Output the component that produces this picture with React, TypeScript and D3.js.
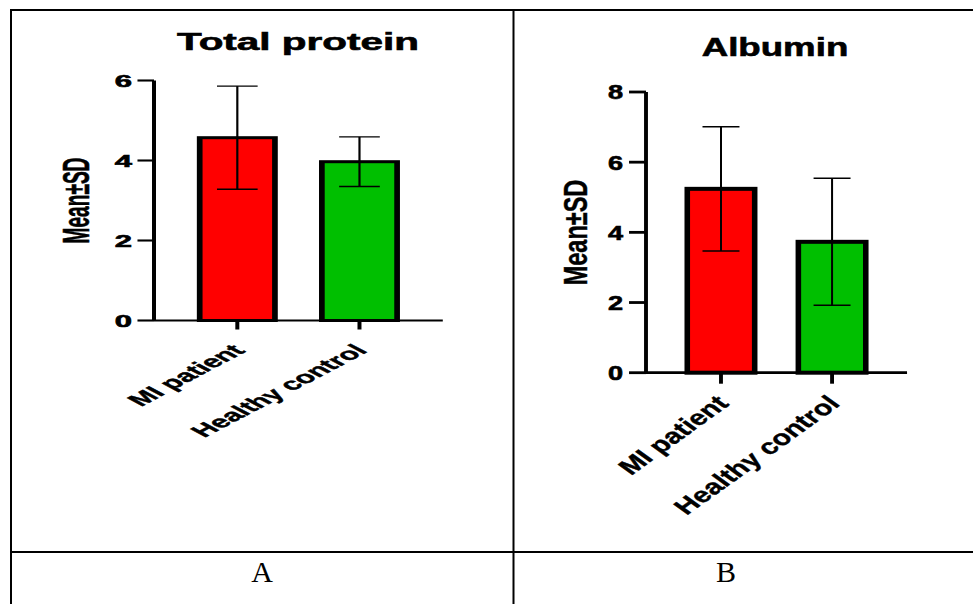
import React from 'react';
import * as d3 from 'd3';

// ---------- data ----------
const categories = ['MI patient', 'Healthy control'];
const barColors = ['#ff0000', '#00bf00'];
const totalProteinMean = [4.57, 3.97];
const totalProteinSD = [1.29, 0.62];
const albuminMean = [5.24, 3.73];
const albuminSD = [1.77, 1.81];
const totalProteinTicks = [0, 2, 4, 6];
const albuminTicks = [0, 2, 4, 6, 8];
const panelTitles = ['Total protein', 'Albumin'];
const panelLetters = ['A', 'B'];
const yAxisTitle = 'Mean±SD';

// ---------- layout ----------
type Panel = {
  title: string;
  means: number[];
  sds: number[];
  ticks: number[];
  yMax: number;
  axisX: number;
  y0: number;
  yTop: number;
  sx: number;
  xEnd: number;
  pad: number;
  barW: number;
  barStroke: number;
  errW: number;
  capHalf: number;
  capW: number;
  axisW: number;
  tickLen: number;
  labelGap: number;
  tickFont: number;
  xTickLen: number;
  xLabelFont: number;
  xLabelDx: number;
  xLabelDy: number;
  yLabelX: number;
  yLabelY: number;
  yLabelFont: number;
  titleX: number;
  titleY: number;
  titleFont: number;
  titleSx: number;
};

const panels: Panel[] = [
  {
    title: panelTitles[0], means: totalProteinMean, sds: totalProteinSD, ticks: totalProteinTicks,
    yMax: 6, axisX: 154, y0: 320.5, yTop: 80.5, sx: 1.9, xEnd: 152, pad: 0.682,
    barW: 39.6, barStroke: 3, errW: 1.15, capHalf: 10.7, capW: 1.4, axisW: 2.1, tickLen: 8.7,
    labelGap: 11.6, tickFont: 16.3, xTickLen: 9, xLabelFont: 16.8, xLabelDx: 9, xLabelDy: 31,
    yLabelX: -40.8, yLabelY: 200.5, yLabelFont: 19.1,
    titleX: 298, titleY: 50, titleFont: 24.7, titleSx: 1.64,
  },
  {
    title: panelTitles[1], means: albuminMean, sds: albuminSD, ticks: albuminTicks,
    yMax: 8, axisX: 646, y0: 372.7, yTop: 92, sx: 1.39, xEnd: 187.8, pad: 0.675,
    barW: 48.5, barStroke: 4, errW: 1.45, capHalf: 13.3, capW: 1.5, axisW: 2.8, tickLen: 12.2,
    labelGap: 16.5, tickFont: 19.5, xTickLen: 11, xLabelFont: 21.6, xLabelDx: 9, xLabelDy: 32,
    yLabelX: -50.9, yLabelY: 232.5, yLabelFont: 23.5,
    titleX: 775, titleY: 56, titleFont: 26, titleSx: 1.41,
  },
];

const FONT = "'Liberation Sans', Arial, Helvetica, sans-serif";

function BarPanel({ p }: { p: Panel }) {
  const y = d3.scaleLinear().domain([0, p.yMax]).range([p.y0, p.yTop]);
  const x = d3.scalePoint<string>().domain(categories).range([0, p.xEnd]).padding(p.pad);
  return (
    <g>
      <text
        transform={`translate(${p.titleX},${p.titleY}) scale(${p.titleSx},1)`}
        textAnchor="middle"
        fontFamily={FONT}
        fontWeight="bold"
        fontSize={p.titleFont}
        fill="#000"
        stroke="#000"
        strokeWidth={0.6}
      >
        {p.title}
      </text>
      <g transform={`translate(${p.axisX},0) scale(${p.sx},1)`}>
        {/* bars */}
        {categories.map((c, i) => (
          <rect
            key={'b' + c}
            x={(x(c) as number) - p.barW / 2}
            y={y(p.means[i])}
            width={p.barW}
            height={y(0) - y(p.means[i])}
            fill={barColors[i]}
            stroke="#000"
            strokeWidth={p.barStroke}
          />
        ))}
        {/* error bars */}
        {categories.map((c, i) => {
          const cx = x(c) as number;
          const hi = y(p.means[i] + p.sds[i]);
          const lo = y(p.means[i] - p.sds[i]);
          return (
            <g key={'e' + c} stroke="#000">
              <line x1={cx} x2={cx} y1={hi} y2={lo} strokeWidth={p.errW} />
              <line x1={cx - p.capHalf} x2={cx + p.capHalf} y1={hi} y2={hi} strokeWidth={p.capW} />
              <line x1={cx - p.capHalf} x2={cx + p.capHalf} y1={lo} y2={lo} strokeWidth={p.capW} />
            </g>
          );
        })}
        {/* y axis */}
        <line x1={0} x2={0} y1={y(p.yMax)} y2={y(0)} stroke="#000" strokeWidth={p.axisW} />
        {p.ticks.map((t) => (
          <g key={'t' + t}>
            <line x1={-p.tickLen} x2={0} y1={y(t)} y2={y(t)} stroke="#000" strokeWidth={p.axisW} />
            <text
              x={-p.labelGap}
              y={y(t)}
              dy="0.38em"
              textAnchor="end"
              fontFamily={FONT}
              fontWeight="bold"
              fontSize={p.tickFont}
              stroke="#000"
              strokeWidth={0.6}
            >
              {t}
            </text>
          </g>
        ))}
        {/* x axis */}
        <line x1={0} x2={p.xEnd} y1={y(0)} y2={y(0)} stroke="#000" strokeWidth={p.axisW} />
        {categories.map((c) => {
          const cx = x(c) as number;
          return (
            <g key={'x' + c}>
              <line x1={cx} x2={cx} y1={y(0)} y2={y(0) + p.xTickLen} stroke="#000" strokeWidth={p.axisW} />
              <text
                transform={`translate(${cx + p.xLabelDx / p.sx},${y(0) + p.xLabelDy}) rotate(-45)`}
                textAnchor="end"
                fontFamily={FONT}
                fontWeight="bold"
                fontSize={p.xLabelFont}
                stroke="#000"
                strokeWidth={0.4}
              >
                {c}
              </text>
            </g>
          );
        })}
        {/* y axis title */}
        <text
          transform={`translate(${p.yLabelX},${p.yLabelY}) rotate(-90)`}
          textAnchor="middle"
          dominantBaseline="central"
          fontFamily={FONT}
          fontWeight="bold"
          fontSize={p.yLabelFont}
          stroke="#000"
          strokeWidth={0.3}
        >
          {yAxisTitle}
        </text>
      </g>
    </g>
  );
}

export default function App() {
  const W = 973;
  const H = 604;
  return (
    <svg
      width={W}
      height={H}
      viewBox={`0 0 ${W} ${H}`}
      style={{ position: 'absolute', left: 0, top: 0, background: '#fff' }}
    >
      <rect x={0} y={0} width={W} height={H} fill="#fff" />
      {/* table grid */}
      <g stroke="#000" strokeWidth={2}>
        <line x1={10} x2={W} y1={10} y2={10} />
        <line x1={11} x2={11} y1={9} y2={H} />
        <line x1={513.5} x2={513.5} y1={9} y2={H} />
        <line x1={10} x2={W} y1={552} y2={552} />
      </g>
      {panels.map((p, i) => (
        <BarPanel key={i} p={p} />
      ))}
      {panelLetters.map((l, i) => (
        <text
          key={l}
          x={i === 0 ? 262 : 726}
          y={582}
          textAnchor="middle"
          fontFamily="'Liberation Serif', 'Times New Roman', serif"
          fontSize={30}
        >
          {l}
        </text>
      ))}
    </svg>
  );
}
